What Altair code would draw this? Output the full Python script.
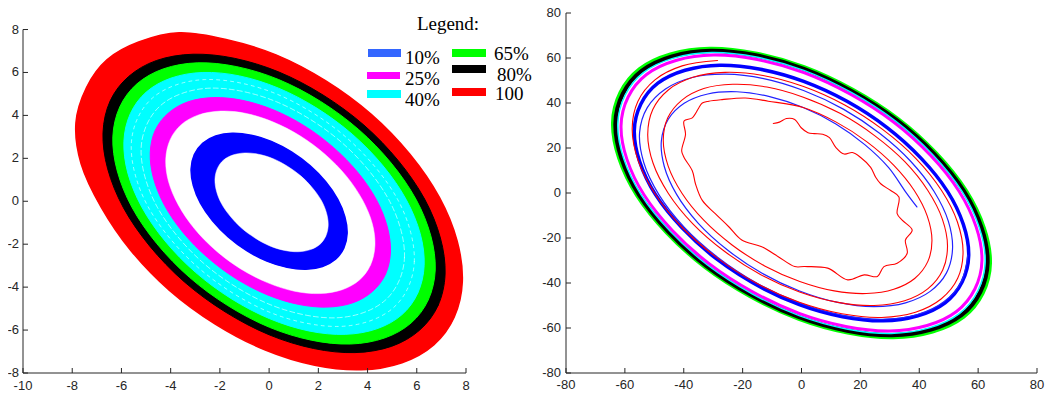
import altair as alt
import pandas as pd

# ---------------- LEFT PANEL DATA (outlines of the noisy bands) ----------------
red_out_x = [6.69, 7.52, 7.85, 7.64, 6.92, 5.72, 4.15, 2.29, 0.28, -1.75, -3.65, -5.30, -6.59, -7.42, -7.85, -7.64, -6.82, -5.62, -4.05, -2.19, -0.18, 1.85, 3.75, 5.40]
red_out_y = [-6.69, -5.40, -3.75, -1.85, 0.18, 2.19, 4.05, 5.62, 6.82, 7.54, 7.85, 7.42, 6.59, 5.30, 3.65, 1.75, -0.28, -2.29, -4.15, -5.72, -6.92, -7.64, -7.85, -7.52]
black_x = [6.11, 6.86, 7.15, 6.96, 6.32, 5.25, 3.85, 2.19, 0.40, -1.41, -3.09, -4.57, -5.71, -6.46, -6.75, -6.56, -5.92, -4.85, -3.45, -1.79, 0.00, 1.81, 3.49, 4.97]
black_y = [-6.01, -4.87, -3.39, -1.71, 0.10, 1.89, 3.55, 4.95, 6.02, 6.66, 6.85, 6.56, 5.81, 4.67, 3.19, 1.51, -0.30, -2.09, -3.75, -5.15, -6.22, -6.86, -7.05, -6.76]
green_x = [5.77, 6.47, 6.75, 6.57, 5.97, 4.96, 3.64, 2.08, 0.39, -1.31, -2.90, -4.29, -5.37, -6.07, -6.35, -6.17, -5.57, -4.56, -3.24, -1.68, 0.01, 1.71, 3.30, 4.69]
green_y = [-5.67, -4.59, -3.20, -1.61, 0.09, 1.78, 3.34, 4.66, 5.67, 6.27, 6.45, 6.17, 5.47, 4.39, 3.00, 1.41, -0.29, -1.98, -3.54, -4.86, -5.87, -6.47, -6.65, -6.37]
cyan_x = [5.39, 6.04, 6.30, 6.14, 5.57, 4.63, 3.40, 1.95, 0.38, -1.21, -2.69, -3.98, -4.99, -5.64, -5.90, -5.74, -5.17, -4.23, -3.00, -1.55, 0.02, 1.61, 3.09, 4.38]
cyan_y = [-5.29, -4.28, -2.99, -1.51, 0.08, 1.65, 3.10, 4.33, 5.27, 5.84, 6.00, 5.74, 5.09, 4.08, 2.79, 1.31, -0.28, -1.85, -3.30, -4.53, -5.47, -6.04, -6.20, -5.94]
streak1_x = [4.70, 5.50, 4.86, 2.96, 0.31, -2.39, -4.40, -5.20, -4.56, -2.66, -0.01, 2.69]
streak1_y = [-4.63, -2.62, 0.08, 2.73, 4.63, 5.27, 4.47, 2.46, -0.24, -2.89, -4.79, -5.43]
streak2_x = [5.04, 5.90, 5.22, 3.17, 0.32, -2.58, -4.74, -5.60, -4.92, -2.87, -0.02, 2.88]
streak2_y = [-4.97, -2.81, 0.09, 2.94, 4.99, 5.67, 4.81, 2.65, -0.25, -3.10, -5.15, -5.83]
mag_x = [4.20, 4.73, 4.93, 4.80, 4.35, 3.60, 2.61, 1.45, 0.19, -1.08, -2.26, -3.30, -4.10, -4.63, -4.83, -4.70, -4.25, -3.50, -2.51, -1.35, -0.09, 1.18, 2.36, 3.40]
mag_y = [-4.20, -3.40, -2.36, -1.18, 0.09, 1.35, 2.51, 3.50, 4.25, 4.70, 4.83, 4.63, 4.10, 3.30, 2.26, 1.08, -0.19, -1.45, -2.61, -3.60, -4.35, -4.80, -4.93, -4.73]
gap_x = [3.67, 4.12, 4.30, 4.19, 3.79, 3.14, 2.28, 1.27, 0.17, -0.93, -1.96, -2.87, -3.57, -4.02, -4.20, -4.09, -3.69, -3.04, -2.18, -1.17, -0.07, 1.03, 2.06, 2.97]
gap_y = [-3.67, -2.97, -2.06, -1.03, 0.07, 1.17, 2.18, 3.04, 3.69, 4.09, 4.20, 4.02, 3.57, 2.87, 1.96, 0.93, -0.17, -1.27, -2.28, -3.14, -3.79, -4.19, -4.30, -4.12]
blue_out_x = [2.70, 3.04, 3.17, 3.08, 2.79, 2.30, 1.66, 0.91, 0.09, -0.73, -1.50, -2.17, -2.70, -3.04, -3.17, -3.08, -2.79, -2.30, -1.66, -0.91, -0.09, 0.73, 1.50, 2.17]
blue_out_y = [-2.70, -2.17, -1.50, -0.73, 0.09, 0.91, 1.66, 2.30, 2.79, 3.08, 3.17, 3.04, 2.70, 2.17, 1.50, 0.73, -0.09, -0.91, -1.66, -2.30, -2.79, -3.08, -3.17, -3.04]
hole_x = [2.06, 2.30, 2.40, 2.34, 2.13, 1.77, 1.31, 0.76, 0.17, -0.43, -0.99, -1.48, -1.86, -2.10, -2.20, -2.14, -1.93, -1.57, -1.11, -0.56, 0.03, 0.63, 1.19, 1.68]
hole_y = [-2.01, -1.63, -1.14, -0.58, 0.02, 0.61, 1.16, 1.62, 1.98, 2.19, 2.25, 2.15, 1.91, 1.53, 1.04, 0.48, -0.12, -0.71, -1.26, -1.72, -2.08, -2.29, -2.35, -2.25]

legend_title = "Legend:"
legend_labels = ["10%", "25%", "40%", "65%", "80%", "100"]
legend_colors = ["#3366ff", "#ff00ff", "#00ffff", "#00ff00", "#000000", "#ff0000"]

left_x_ticks = [-10, -8, -6, -4, -2, 0, 2, 4, 6, 8]
left_y_ticks = [-8, -6, -4, -2, 0, 2, 4, 6, 8]

# ---------------- RIGHT PANEL DATA ----------------
red_sp_x = [-9.6, -7.5, -5.1, -2.3, -0.1, 2.2, 4.4, 7.2, 9.5, 11.7, 14.5, 17.3, 20.1, 23.5, 25.2, 26.9, 30.3, 33.1, 32.5, 34.2,
            37.6, 35.3, 35.9, 32.5, 28.0, 25.8, 21.3, 15.7, 8.9, 1.1, -2.3, -7.9, -13.5, -20.3, -24.7, -29.3, -33.7, -36.0, -37.1, -39.9,
            -40.7, -39.4, -39.9, -37.1, -34.9, -33.7, -31.5, -27.0, -19.1, -11.3,
            0.56, 11.80, 22.24, 31.30, 38.31, 42.73, 44.32, 42.89, 38.45, 31.35, 22.06, 11.13, -0.59, -12.52, -23.59, -33.20, -40.61, -45.29, -46.96, -45.43, -40.72, -33.19, -23.35, -11.77,
            0.63, 13.24, 24.94, 35.09, 42.92, 47.85, 49.6, 47.98, 42.98, 35.03, 24.63, 12.42, -0.66, -13.96, -26.30, -36.98, -45.22, -50.41, -52.24, -50.52, -45.25, -36.87, -25.92, -13.07,
            0.70, 14.68, 27.65, 38.88, 47.53, 52.97, 54.88, 53.06, 47.52, 38.71, 27.21, 13.72, -0.73, -15.40, -29.0, -40.77, -49.83, -55.52, -57.52, -55.60, -49.79, -40.55, -28.50]
red_sp_y = [30.9, 31.5, 33.1, 32.7, 29.0, 26.8, 26.4, 26.1, 24.6, 20.2, 17.3, 18.0, 15.8, 11.4, 7.0, 4.1, 1.1, -1.8, -9.2, -12.1,
            -16.5, -20.9, -26.8, -31.2, -32.7, -37.1, -36.4, -38.6, -33.4, -32.7, -32.7, -28.3, -23.9, -20.9, -15.0, -9.2, -3.3, 4.0, 9.9, 15.8,
            18.7, 26.1, 32.0, 33.4, 37.8, 40.0, 40.8, 41.5, 42.2, 40.8,
            38.0, 31.5, 22.74, 12.4, 1.1, -10.3, -21.1, -30.5, -38.0, -42.8, -44.7, -43.5, -39.3, -32.4, -23.09, -12.1, -0.1, 11.95, 23.4, 33.4, 41.2, 46.4, 48.3, 47.1,
            42.6, 35.3, 25.4, 13.9, 1.1, -11.6, -23.7, -34.2, -42.5, -47.9, -50.0, -48.6, -44.0, -36.2, -25.8, -13.6, -0.2, 13.2, 26.0, 37.1, 45.8, 51.4, 53.6, 52.2,
            47.3, 39.1, 28.15, 15.3, 1.2, -12.9, -26.3, -37.9, -47.0, -53.0, -55.3, -53.7, -48.6, -40.0, -28.5, -15.0, -0.2, 14.5, 28.6, 40.7, 50.3, 56.5, 58.9]
blue_sp_x = [39.2, 35.36, 29.61, 21.50, 11.68, 0.57, -10.83, -21.96, -31.85, -39.86, -45.26, -47.6, -46.61, -42.43, -35.13, -25.24,
             -13.54, -0.65, 12.30, 24.64, 35.34, 43.72, 49.21, 51.3, 49.90, 45.05, 37.07, 26.52, 14.20, 0.68, -12.86, -25.77,
             -37.15, -46.21, -52.39, -55.0, -53.59, -48.45, -39.87, -28.52, -15.23, -0.73, 13.72, 27.38, 39.17, 48.36, 54.31, 56.5]
blue_sp_y = [-6.2, 0.53, 11.27, 21.50, 30.69, 37.98, 42.83, 45.0, 44.01, 39.86, 32.76, 23.23, 11.78, -0.63, -13.38, -25.24,
             -35.56, -43.56, -48.64, -50.5, -48.82, -43.72, -35.62, -25.03, -12.62, 0.67, 14.11, 26.52, 37.28, 45.57, 50.87, 52.8,
             51.33, 46.21, 37.92, 26.84, 13.55, -0.72, -15.18, -28.52, -40.01, -48.80, -54.26, -56.1, -54.12, -48.36, -39.31, -27.57]
blue_ring_x = [48.79, 56.8, 49.59, 29.08, 0.74, -27.72, -48.79, -56.8, -49.59, -29.08, -0.74, 27.72]
blue_ring_y = [-48.79, -27.72, 0.74, 29.08, 49.59, 56.8, 48.79, 27.72, -0.74, -29.08, -49.59, -56.8]
mag_ring_x = [52.66, 61.3, 53.51, 31.39, 0.80, -29.91, -52.66, -61.3, -53.51, -31.39, -0.80, 29.91]
mag_ring_y = [-52.66, -29.91, 0.80, 31.39, 53.51, 61.3, 52.66, 29.91, -0.80, -31.39, -53.51, -61.3]
cyan_ring_x = [53.60, 62.4, 54.48, 31.95, 0.81, -30.45, -53.60, -62.4, -54.48, -31.95, -0.81, 30.45]
cyan_ring_y = [-53.60, -30.45, 0.81, 31.95, 54.48, 62.4, 53.60, 30.45, -0.81, -31.95, -54.48, -62.4]
black_ring_x = [54.29, 63.2, 55.17, 32.36, 0.82, -30.84, -54.29, -63.2, -55.17, -32.36, -0.82, 30.84]
black_ring_y = [-54.29, -30.84, 0.82, 32.36, 55.17, 63.2, 54.29, 30.84, -0.82, -32.36, -55.17, -63.2]
green_ring_x = [54.89, 63.9, 55.78, 32.72, 0.83, -31.18, -54.89, -63.9, -55.78, -32.72, -0.83, 31.18]
green_ring_y = [-54.89, -31.18, 0.83, 32.72, 55.78, 63.9, 54.89, 31.18, -0.83, -32.72, -55.78, -63.9]

right_ticks = [-80, -60, -40, -20, 0, 20, 40, 60, 80]

# ---------------- LAYOUT / STYLE ----------------
LW, LH = 443, 360
RW, RH = 471, 360
AX_COL = "#262626"
LABEL_FONT = "Liberation Sans"
SERIF = "Liberation Serif"

lxs = alt.Scale(domain=[-10, 8], nice=False, zero=False)
lys = alt.Scale(domain=[-8, 8.77], nice=False, zero=False)
rxs = alt.Scale(domain=[-80, 80], nice=False, zero=False)
rys = alt.Scale(domain=[-80, 80], nice=False, zero=False)


def path(xs, ys, color, xsc, ysc, width=1.0, fill=None, interp="linear", opacity=1.0, dash=None):
    df = pd.DataFrame({"x": xs, "y": ys, "i": list(range(len(xs)))})
    kw = dict(color=color, strokeWidth=width, interpolate=interp, strokeJoin="round",
              strokeCap="round", opacity=opacity)
    if fill is not None:
        kw["fill"] = fill
    if dash is not None:
        kw["strokeDash"] = dash
    return alt.Chart(df).mark_line(**kw).encode(
        x=alt.X("x:Q", scale=xsc, axis=None),
        y=alt.Y("y:Q", scale=ysc, axis=None),
        order="i:Q",
    )


def axis_layers(xt, yt, xsc, ysc, h, ylab_pad, xlab_off):
    """Hand-drawn MATLAB-like axes: left & bottom lines, inward ticks, labels."""
    xdf = pd.DataFrame({"v": xt, "lab": [str(v) for v in xt]})
    ydf = pd.DataFrame({"v": yt, "lab": [str(v) for v in yt]})
    return [
        alt.Chart(pd.DataFrame({"a": [xt[0]], "b": [xt[-1]]})).mark_rule(color=AX_COL, strokeWidth=1).encode(
            x=alt.X("a:Q", scale=xsc, axis=None), x2="b:Q", y=alt.value(h)),
        alt.Chart(pd.DataFrame({"a": [yt[0]], "b": [yt[-1]]})).mark_rule(color=AX_COL, strokeWidth=1).encode(
            y=alt.Y("a:Q", scale=ysc, axis=None), y2="b:Q", x=alt.value(0)),
        alt.Chart(xdf).mark_rule(color=AX_COL, strokeWidth=1).encode(
            x=alt.X("v:Q", scale=xsc, axis=None), y=alt.value(h), y2=alt.value(h - 5)),
        alt.Chart(ydf).mark_rule(color=AX_COL, strokeWidth=1).encode(
            y=alt.Y("v:Q", scale=ysc, axis=None), x=alt.value(0), x2=alt.value(5)),
        alt.Chart(xdf).mark_text(font=LABEL_FONT, fontSize=13, color=AX_COL, align="center", baseline="top").encode(
            x=alt.X("v:Q", scale=xsc, axis=None), y=alt.value(h + xlab_off), text="lab:N"),
        alt.Chart(ydf).mark_text(font=LABEL_FONT, fontSize=13, color=AX_COL, align="right", baseline="middle").encode(
            y=alt.Y("v:Q", scale=ysc, axis=None), x=alt.value(-ylab_pad), text="lab:N"),
    ]


# ---- left chart ----
left_layers = [
    path(red_out_x, red_out_y, "#ff0000", lxs, lys, 1.5, "#ff0000", "cardinal-closed"),
    path(black_x, black_y, "#000000", lxs, lys, 1.0, "#000000", "cardinal-closed"),
    path(green_x, green_y, "#00ff00", lxs, lys, 1.0, "#00ff00", "cardinal-closed"),
    path(cyan_x, cyan_y, "#00ffff", lxs, lys, 1.0, "#00ffff", "cardinal-closed"),
    path(streak1_x, streak1_y, "#ffffff", lxs, lys, 0.8, None, "cardinal-closed", 0.75, [5, 3]),
    path(streak2_x, streak2_y, "#ffffff", lxs, lys, 0.8, None, "cardinal-closed", 0.75, [3, 4]),
    path(mag_x, mag_y, "#ff00ff", lxs, lys, 1.0, "#ff00ff", "cardinal-closed"),
    path(gap_x, gap_y, "#ffffff", lxs, lys, 0.5, "#ffffff", "cardinal-closed"),
    path(blue_out_x, blue_out_y, "#0000ff", lxs, lys, 1.5, "#0000ff", "cardinal-closed"),
    path(hole_x, hole_y, "#ffffff", lxs, lys, 0.5, "#ffffff", "cardinal-closed"),
]
left_layers += axis_layers(left_x_ticks, left_y_ticks, lxs, lys, LH, 4, 6.5)

# legend (pixel layout inside the left plot)
one = pd.DataFrame({"k": [0]})
left_layers.append(alt.Chart(one).mark_text(text=legend_title, font=SERIF, fontSize=19, align="center",
                                            baseline="alphabetic", color="#000000").encode(x=alt.value(425), y=alt.value(17)))
sw_pos = [(345, 378, 36, 44), (344, 377, 59, 66), (344, 378, 77, 85), (429, 463, 36, 44), (429, 463, 52, 60), (429, 463, 75, 83)]
tx_pos = [(382, 50.5), (382, 72), (382, 93), (471, 46.5), (474, 67.5), (472, 86.5)]
for lab, col, (x0, x1, y0, y1), (tx, ty) in zip(legend_labels, legend_colors, sw_pos, tx_pos):
    left_layers.append(alt.Chart(one).mark_rect(color=col).encode(
        x=alt.value(x0), x2=alt.value(x1), y=alt.value(y0), y2=alt.value(y1)))
    left_layers.append(alt.Chart(one).mark_text(text=lab, font=SERIF, fontSize=19, align="left",
                                                baseline="alphabetic", color="#000000").encode(
        x=alt.value(tx), y=alt.value(ty)))

left = alt.layer(*left_layers).properties(width=LW, height=LH)

# ---- right chart ----
right_layers = [
    path(green_ring_x, green_ring_y, "#00ff00", rxs, rys, 4.8, None, "cardinal-closed"),
    path(black_ring_x, black_ring_y, "#000000", rxs, rys, 4.2, None, "cardinal-closed"),
    path(cyan_ring_x, cyan_ring_y, "#00ffff", rxs, rys, 1.5, None, "cardinal-closed"),
    path(mag_ring_x, mag_ring_y, "#ff00ff", rxs, rys, 3.0, None, "cardinal-closed"),
    path(blue_ring_x, blue_ring_y, "#0000ff", rxs, rys, 3.5, None, "cardinal-closed"),
    path(blue_sp_x, blue_sp_y, "#2222ff", rxs, rys, 1.2, None, "catmull-rom"),
    path(red_sp_x, red_sp_y, "#ff0000", rxs, rys, 1.1, None, "catmull-rom"),
]
right_layers += axis_layers(right_ticks, right_ticks, rxs, rys, RH, 5, 5.5)
right = alt.layer(*right_layers).properties(width=RW, height=RH)

# total drawing = 1037 x 382 px, so the page (with its 8px margins) is exactly 1053 x 398
chart = alt.hconcat(left, right, spacing=100, bounds="flush").properties(
    autosize=alt.AutoSizeParams(type="none"),
    padding={"left": 15, "top": 5, "right": 1022, "bottom": 377},
).configure_view(stroke=None)

chart.save("out.html", embed_options={"renderer": "svg", "actions": False})
